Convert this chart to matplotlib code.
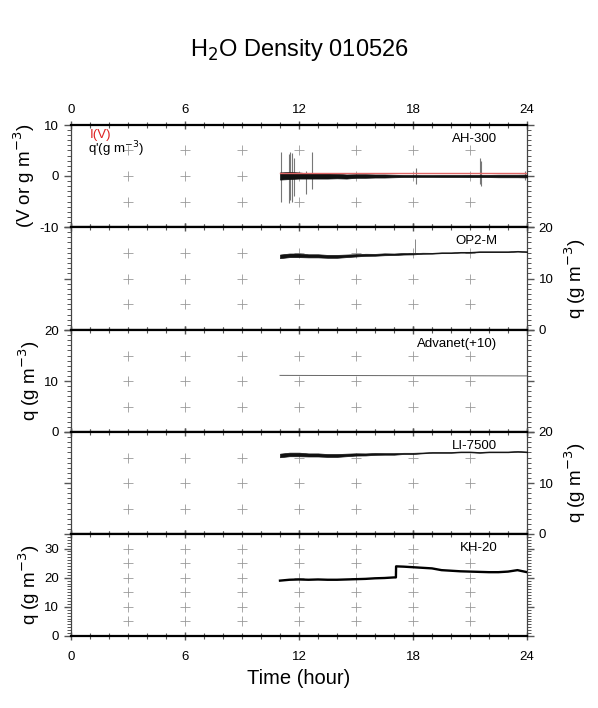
import numpy as np
import matplotlib
matplotlib.use("Agg")
import matplotlib.pyplot as plt
from matplotlib.ticker import MultipleLocator

plt.rcParams['font.family'] = ['Liberation Sans', 'DejaVu Sans']
plt.rcParams['axes.unicode_minus'] = False

# time axis of the traces (hour), half-hour steps from 11h to 24h
hours = np.arange(11.0, 24.01, 0.5)

# AH-300 fluctuation q' (centre and half-width of the noisy trace)
ah_mid = [0.0, 0.1, 0.1, 0.0, 0.0, 0.0, 0.0, -0.1, 0.0, 0.0, 0.0, 0.0, 0.0, 0.0,
          0.0, 0.0, 0.0, 0.0, 0.0, 0.0, 0.0, 0.0, 0.0, 0.0, 0.0, 0.0, 0.0]
ah_half = [0.7, 0.7, 0.6, 0.5, 0.5, 0.5, 0.45, 0.4, 0.35, 0.35, 0.3, 0.3, 0.25, 0.2,
           0.2, 0.18, 0.18, 0.2, 0.2, 0.2, 0.22, 0.22, 0.22, 0.25, 0.25, 0.25, 0.28]
# spikes in the AH-300 trace: time, low, high
spike_t = [11.05, 11.45, 11.55, 11.65, 11.75, 12.35, 12.7, 18.15, 21.5, 21.6, 23.9]
spike_lo = [-5.0, -5.2, -4.8, -5.0, -4.0, -3.5, -2.5, -1.5, -1.5, -2.0, -0.8]
spike_hi = [4.8, 4.4, 4.8, 4.6, 3.5, 1.0, 4.8, 1.5, 3.5, 3.0, 1.0]
# AH-300 voltage I(V)
iv_t = [11.0, 24.0]
iv_v = [0.6, 0.6]

# OP2-M
op2_mid = [14.3, 14.5, 14.5, 14.4, 14.4, 14.3, 14.3, 14.4, 14.5, 14.6, 14.6, 14.7, 14.7, 14.8,
           14.8, 14.9, 14.9, 15.0, 15.0, 15.1, 15.1, 15.2, 15.2, 15.2, 15.2, 15.3, 15.2]
op2_half = [0.35, 0.35, 0.35, 0.3, 0.3, 0.28, 0.28, 0.25, 0.22, 0.2, 0.18, 0.18, 0.15, 0.15,
            0.12, 0.1, 0.08, 0.08, 0.08, 0.08, 0.08, 0.08, 0.08, 0.08, 0.08, 0.08, 0.08]
op2_spike = (18.1, 15.0, 17.6)

# Advanet (+10)
adv_t = [11.0, 24.0]
adv_v = [11.1, 11.0]

# LI-7500
li_mid = [15.4, 15.6, 15.6, 15.5, 15.5, 15.4, 15.4, 15.5, 15.6, 15.6, 15.7, 15.7, 15.7, 15.8,
          15.8, 15.9, 16.0, 16.0, 16.0, 16.1, 16.1, 16.0, 16.1, 16.1, 16.1, 16.2, 16.1]
li_half = [0.35, 0.35, 0.35, 0.3, 0.3, 0.28, 0.28, 0.25, 0.22, 0.2, 0.18, 0.15, 0.15, 0.12,
           0.12, 0.08, 0.08, 0.08, 0.08, 0.08, 0.08, 0.08, 0.08, 0.08, 0.08, 0.08, 0.08]

# KH-20 (step at about 17.1h)
kh_t = [11.0, 11.5, 12.0, 12.5, 13.0, 13.5, 14.0, 14.5, 15.0, 15.5, 16.0, 16.5, 17.0, 17.1,
        17.11, 17.5, 18.0, 18.5, 19.0, 19.5, 20.0, 20.5, 21.0, 21.5, 22.0, 22.5, 23.0, 23.5, 24.0]
kh_v = [19.0, 19.3, 19.4, 19.3, 19.4, 19.3, 19.3, 19.4, 19.5, 19.6, 19.8, 19.9, 20.1, 20.1,
        23.9, 23.8, 23.6, 23.4, 23.2, 22.6, 22.4, 22.2, 22.1, 22.0, 21.9, 21.9, 22.1, 22.6, 21.9]

# panel settings
names = ["AH-300", "OP2-M", "Advanet(+10)", "LI-7500", "KH-20"]
ylims = [(-10, 10), (0, 20), (0, 20), (0, 20), (0, 35)]
ymajor = [10, 10, 10, 10, 10]
ygrid = [[-5, 0, 5], [5, 10, 15], [5, 10, 15], [5, 10, 15], [5, 10, 15, 20, 25, 30]]
ylabels = ["(V or g m$^{-3}$)", "q (g m$^{-3}$)", "q (g m$^{-3}$)",
           "q (g m$^{-3}$)", "q (g m$^{-3}$)"]
label_right = [False, True, False, True, False]
grid_hours = [3, 6, 9, 12, 15, 18, 21]

W, H = 598, 708
fig = plt.figure(figsize=(W / 100, H / 100), dpi=100)
edges = [125, 227, 330, 432, 534, 636]
x0, x1 = 71, 527

axes = []
for i in range(5):
    ax = fig.add_axes([x0 / W, 1 - edges[i + 1] / H, (x1 - x0) / W, (edges[i + 1] - edges[i]) / H])
    axes.append(ax)
    ax.set_xlim(0, 24)
    ax.set_ylim(*ylims[i])
    ax.xaxis.set_major_locator(MultipleLocator(6))
    ax.xaxis.set_minor_locator(MultipleLocator(1))
    ax.yaxis.set_major_locator(MultipleLocator(ymajor[i]))
    ax.yaxis.set_minor_locator(MultipleLocator(1))
    ax.tick_params(axis='x', which='both', direction='inout', top=True, bottom=True,
                   labelbottom=False, labeltop=False, color='#555555')
    ax.tick_params(axis='x', which='major', length=6, width=1)
    ax.tick_params(axis='x', which='minor', length=5, width=0.8)
    ax.tick_params(axis='y', which='both', direction='out', left=True, right=True,
                   labelleft=not label_right[i], labelright=label_right[i],
                   color='#555555', labelsize=9.5)
    ax.tick_params(axis='y', which='major', length=5, width=1)
    ax.tick_params(axis='y', which='minor', length=3, width=0.7)
    for s in ['top', 'bottom']:
        ax.spines[s].set_linewidth(1.6)
    for s in ['left', 'right']:
        ax.spines[s].set_linewidth(0.9)
        ax.spines[s].set_color('#444444')
    gx, gy = np.meshgrid(grid_hours, ygrid[i])
    ax.scatter(gx.ravel(), gy.ravel(), marker='+', s=45, color='#9a9a9a', linewidths=0.6, zorder=1)
    ax.text(0.935, 0.92, names[i], transform=ax.transAxes, ha='right', va='top', fontsize=9.5)
    if label_right[i]:
        ax.yaxis.set_label_position('right')
        ax.set_ylabel(ylabels[i], fontsize=13.5, rotation=90, labelpad=6)
    else:
        ax.set_ylabel(ylabels[i], fontsize=13.5, labelpad=2)

# panel 1
ax = axes[0]
ax.vlines(spike_t, spike_lo, spike_hi, color='#777777', lw=0.8, zorder=2)
lo = np.array(ah_mid) - np.array(ah_half)
hi = np.array(ah_mid) + np.array(ah_half)
ax.fill_between(hours, lo, hi, color='#111111', lw=0.5, zorder=3)
ax.plot(iv_t, iv_v, color='#e06666', lw=1.0, zorder=4)
ax.text(1.0, 8.1, "I(V)", color='#dd2222', fontsize=9.5, va='center')
ax.text(0.9, 5.3, "q'(g m$^{-3}$)", color='black', fontsize=9.5, va='center')
ax.tick_params(axis='x', which='major', labeltop=True, labelsize=9.5)

# panel 2
ax = axes[1]
lo = np.array(op2_mid) - np.array(op2_half)
hi = np.array(op2_mid) + np.array(op2_half)
ax.fill_between(hours, lo, hi, color='#111111', lw=0.5, zorder=3)
ax.vlines([op2_spike[0]], [op2_spike[1]], [op2_spike[2]], color='#888888', lw=0.7)

# panel 3
ax = axes[2]
ax.plot(adv_t, adv_v, color='#666666', lw=0.7, zorder=3)

# panel 4
ax = axes[3]
lo = np.array(li_mid) - np.array(li_half)
hi = np.array(li_mid) + np.array(li_half)
ax.fill_between(hours, lo, hi, color='#111111', lw=0.5, zorder=3)

# panel 5
ax = axes[4]
ax.plot(kh_t, kh_v, color='black', lw=1.7, zorder=3)
ax.tick_params(axis='x', which='major', labelbottom=True, labelsize=9.5, pad=8)
ax.set_xlabel("Time (hour)", fontsize=14.5, labelpad=4)

fig.text(0.5, 1 - 50 / H, "H$_2$O Density 010526", ha='center', va='center', fontsize=17)

fig.savefig("out.png", dpi=100)
